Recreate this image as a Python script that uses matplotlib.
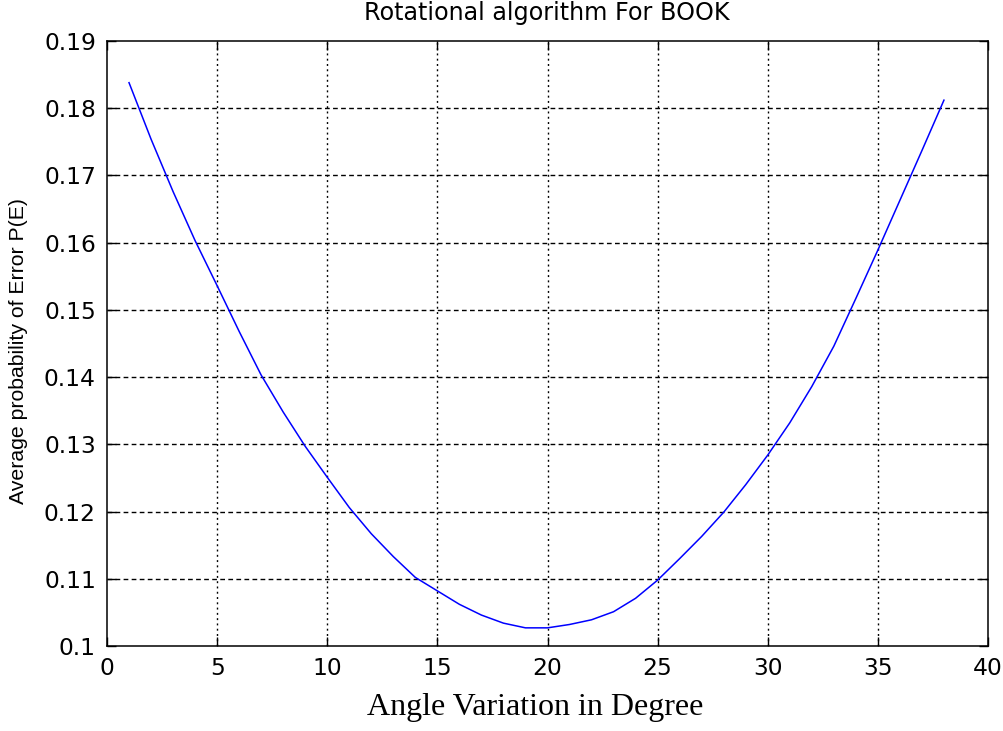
import matplotlib
matplotlib.use('Agg')
import matplotlib.pyplot as plt

# angle (degrees) and average probability of error
angles = list(range(1, 39))
p_error = [0.1838, 0.1754, 0.1676, 0.1603, 0.1536, 0.1468, 0.1403, 0.1348,
           0.1297, 0.1251, 0.1206, 0.1167, 0.1133, 0.1102, 0.1082, 0.1062,
           0.1046, 0.1034, 0.1027, 0.1027, 0.1032, 0.1039, 0.1051, 0.1071,
           0.1098, 0.1130, 0.1163, 0.1199, 0.1240, 0.1284, 0.1332, 0.1386,
           0.1446, 0.1517, 0.1589, 0.1663, 0.1737, 0.1812]

x_ticks = [0, 5, 10, 15, 20, 25, 30, 35, 40]
y_ticks = [0.1, 0.11, 0.12, 0.13, 0.14, 0.15, 0.16, 0.17, 0.18, 0.19]
y_tick_labels = ['0.1', '0.11', '0.12', '0.13', '0.14', '0.15', '0.16', '0.17', '0.18', '0.19']

fig = plt.figure(figsize=(10.04, 7.31), dpi=100)
fig.patch.set_facecolor('white')
ax = fig.add_axes([107 / 1004, 1 - 646 / 731, (988 - 107) / 1004, (646 - 41) / 731])

ax.plot(angles, p_error, color='#0000ff', lw=1.1, zorder=3)

ax.set_xlim(0, 40)
ax.set_ylim(0.1, 0.19)
ax.set_xticks(x_ticks)
ax.set_yticks(y_ticks)
ax.set_yticklabels(y_tick_labels)

# MATLAB-like inward ticks on all four sides
ax.tick_params(direction='in', length=6.5, width=1.0, top=True, right=True,
               labelsize=16.8, colors='black', pad=8)
for sp in ax.spines.values():
    sp.set_linewidth(1.1)
    sp.set_color('black')

# dotted grid: horizontal lines look dashed, vertical ones dotted
for y in y_ticks[1:-1]:
    ax.axhline(y, color='black', lw=1.0, linestyle=(0, (3.4, 2.4)), zorder=1)
for x in x_ticks[1:-1]:
    ax.axvline(x, color='black', lw=1.0, linestyle=(0, (1.4, 2.4)), zorder=1)

fig.text(0.545, 1 - 13 / 731, 'Rotational algorithm For BOOK', ha='center', va='center',
         fontsize=17.2, family='DejaVu Sans')
fig.text(19 / 1004, 1 - 351 / 731, 'Average probability of Error P(E)', rotation=90,
         ha='center', va='center', fontsize=15.3, family='Liberation Sans')
fig.text(535 / 1004, 1 - 708 / 731, 'Angle Variation in Degree', ha='center', va='center',
         fontsize=23, family='Liberation Serif')

fig.savefig('out.png', dpi=100, facecolor=fig.get_facecolor())
